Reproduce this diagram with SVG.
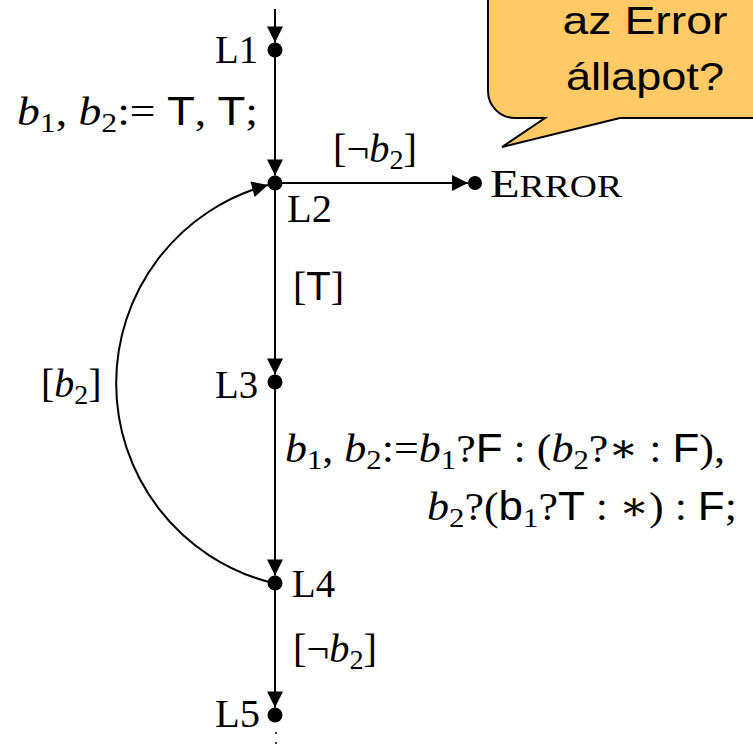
<svg xmlns="http://www.w3.org/2000/svg" width="753" height="745" viewBox="0 0 753 745">
<style>
.ln{stroke:#000;stroke-width:2;fill:none}
.dot{fill:#000}
.t{font-family:"Liberation Serif","DejaVu Serif",serif;font-size:40px;fill:#000}
.it{font-style:italic}
.sf{font-family:"Liberation Sans",Arial,sans-serif;font-style:normal}
.sub{font-size:28px}
.bub{font-family:"Liberation Sans",Arial,sans-serif;font-size:39px;fill:#000}
</style>
<defs>
<marker id="ah" markerUnits="userSpaceOnUse" markerWidth="20" markerHeight="20" viewBox="-17 -10 20 20" refX="0" refY="0" orient="auto">
<path d="M-16,-8 L0,0 L-16,8 Z" fill="#000"/>
</marker>
</defs>
<rect width="753" height="745" fill="#fff"/>

<g id="connectors">
<line class="ln" x1="275" y1="9" x2="275" y2="42.5" marker-end="url(#ah)"/>
<g id="e-L1-L2">
<line class="ln" x1="275" y1="50" x2="275" y2="175.5" marker-end="url(#ah)"/>
<text class="t" x="258" y="125" text-anchor="end" textLength="241" lengthAdjust="spacingAndGlyphs"><tspan class="it">b</tspan><tspan class="sub" dy="7">1</tspan><tspan dy="-7">, </tspan><tspan class="it">b</tspan><tspan class="sub" dy="7">2</tspan><tspan dy="-7">:= </tspan><tspan class="sf">T</tspan>, <tspan class="sf">T</tspan>;</text>
</g>
<g id="e-L2-ERROR">
<line class="ln" x1="275" y1="183" x2="468" y2="183" marker-end="url(#ah)"/>
<text class="t" x="333" y="162" textLength="84" lengthAdjust="spacingAndGlyphs">[¬<tspan class="it">b</tspan><tspan class="sub" dy="7">2</tspan><tspan dy="-7">]</tspan></text>
</g>
<g id="e-L2-L3">
<line class="ln" x1="275" y1="183" x2="275" y2="374.5" marker-end="url(#ah)"/>
<text class="t" x="293" y="300">[<tspan class="sf">T</tspan>]</text>
</g>
<g id="e-L3-L4">
<line class="ln" x1="275" y1="382" x2="275" y2="575.5" marker-end="url(#ah)"/>
<text class="t" x="285" y="462" textLength="440" lengthAdjust="spacingAndGlyphs"><tspan class="it">b</tspan><tspan class="sub" dy="7">1</tspan><tspan dy="-7">, </tspan><tspan class="it">b</tspan><tspan class="sub" dy="7">2</tspan><tspan dy="-7">:=</tspan><tspan class="it">b</tspan><tspan class="sub" dy="7">1</tspan><tspan dy="-7">?</tspan><tspan class="sf">F</tspan> : (<tspan class="it">b</tspan><tspan class="sub" dy="7">2</tspan><tspan dy="-7">?∗ : </tspan><tspan class="sf">F</tspan>),</text>
<text class="t" x="737" y="520" text-anchor="end" textLength="310" lengthAdjust="spacingAndGlyphs"><tspan class="it">b</tspan><tspan class="sub" dy="7">2</tspan><tspan dy="-7">?(</tspan><tspan class="sf">b</tspan><tspan class="sub" dy="7">1</tspan><tspan dy="-7">?</tspan><tspan class="sf">T</tspan> : ∗) : <tspan class="sf">F</tspan>;</text>
</g>
<g id="e-L4-L2">
<path class="ln" d="M 269 582 A 205.5 205.5 0 0 1 268 185" marker-end="url(#ah)"/>
<text class="t" x="41" y="397">[<tspan class="it">b</tspan><tspan class="sub" dy="7">2</tspan><tspan dy="-7">]</tspan></text>
</g>
<g id="e-L4-L5">
<line class="ln" x1="275" y1="583" x2="275" y2="707.5" marker-end="url(#ah)"/>
<text class="t" x="293" y="662" textLength="84" lengthAdjust="spacingAndGlyphs">[¬<tspan class="it">b</tspan><tspan class="sub" dy="7">2</tspan><tspan dy="-7">]</tspan></text>
</g>
<circle cx="276" cy="733" r="1" fill="#000"/>
<circle cx="276" cy="743" r="1" fill="#000"/>
</g>

<g id="L1"><circle class="dot" cx="275" cy="50" r="7.5"/><text class="t" x="258" y="63" text-anchor="end" textLength="43" lengthAdjust="spacingAndGlyphs">L1</text></g>
<g id="L2"><circle class="dot" cx="275" cy="183" r="7.5"/><text class="t" x="287" y="222" textLength="45" lengthAdjust="spacingAndGlyphs">L2</text></g>
<g id="L3"><circle class="dot" cx="275" cy="382" r="7.5"/><text class="t" x="258" y="398" text-anchor="end" textLength="43" lengthAdjust="spacingAndGlyphs">L3</text></g>
<g id="L4"><circle class="dot" cx="275" cy="583" r="7.5"/><text class="t" x="292" y="597" textLength="43" lengthAdjust="spacingAndGlyphs">L4</text></g>
<g id="L5"><circle class="dot" cx="275" cy="715" r="7.5"/><text class="t" x="260" y="727" text-anchor="end" textLength="45" lengthAdjust="spacingAndGlyphs">L5</text></g>
<g id="ERROR"><circle class="dot" cx="475" cy="183" r="7"/><text class="t" x="490" y="197" textLength="132" lengthAdjust="spacingAndGlyphs">E<tspan font-size="31">RROR</tspan></text></g>

<g id="callout">
<path d="M 488 -20 L 488 91 A 27 27 0 0 0 515 118 L 545 118 L 502 147 L 620 118 L 770 118 L 770 -20 Z" fill="#FFCA66" stroke="#000" stroke-width="2"/>
<text class="bub" x="645" y="34" text-anchor="middle" textLength="165" lengthAdjust="spacingAndGlyphs">az Error</text>
<text class="bub" x="645" y="90" text-anchor="middle" textLength="158" lengthAdjust="spacingAndGlyphs">állapot?</text>
</g>
</svg>
